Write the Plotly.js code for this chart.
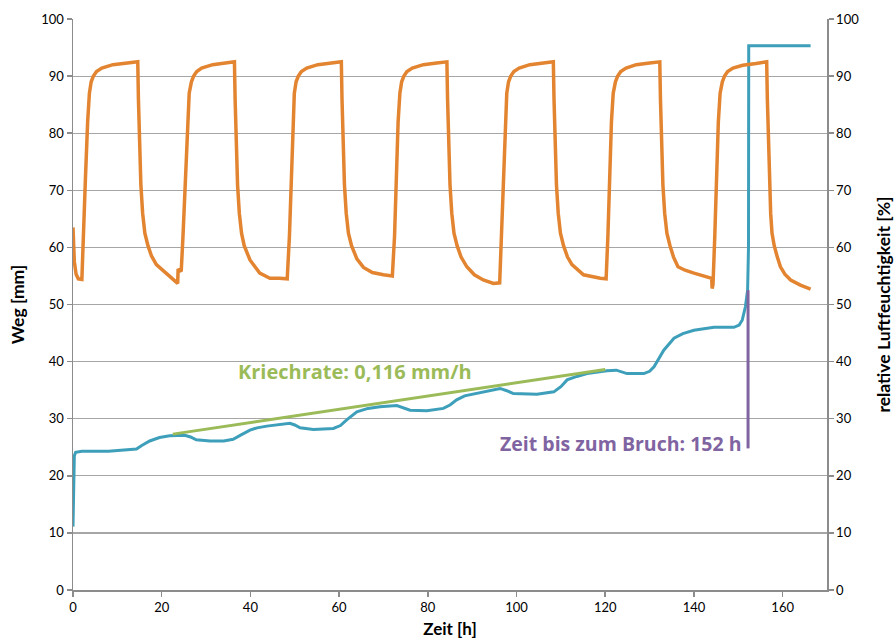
<!DOCTYPE html>
<html>
<head>
<meta charset="utf-8">
<script src="https://cdn.plot.ly/plotly-3.0.1.min.js"></script>
<style>html,body{margin:0;padding:0;background:#fff;}#chart{width:896px;height:644px;}</style>
</head>
<body>
<div id="chart"></div>
<script>
// Weg [mm] (left axis)
const wegX = [0, 0.3, 0.6, 2, 8, 14.3, 15.5, 17.3, 19.5, 21.8, 25.2, 26.5, 27.8, 30.9, 34, 36.1, 38, 39.9, 41.5, 43.7, 48.9, 50, 51.2, 54.2, 58.7, 60.3, 61.7, 64, 66.5, 69.2, 73, 74.5, 76, 79.8, 83.5, 85, 86.5, 88.3, 90.3, 96.3, 97.8, 99.3, 104.6, 108.4, 110, 111.4, 113.6, 115.9, 120.4, 122.5, 124.9, 128.7, 130, 131, 133.2, 135.5, 137.5, 140, 144.5, 149, 150.2, 150.9, 151.6, 152.1, 152.3, 152.35, 166.3];
const wegY = [11.1, 23.5, 24.1, 24.3, 24.3, 24.7, 25.3, 26.1, 26.7, 27.0, 27.1, 26.8, 26.3, 26.1, 26.1, 26.4, 27.2, 28.0, 28.4, 28.7, 29.2, 28.9, 28.4, 28.1, 28.3, 28.8, 29.8, 31.2, 31.8, 32.1, 32.3, 31.9, 31.5, 31.4, 31.8, 32.4, 33.3, 34.0, 34.3, 35.3, 34.9, 34.4, 34.3, 34.7, 35.6, 36.8, 37.4, 37.9, 38.4, 38.5, 37.9, 37.9, 38.3, 39.1, 42.0, 44.1, 44.9, 45.5, 46.0, 46.0, 46.4, 47.3, 49.6, 52.5, 60, 95.3, 95.3];

// relative Luftfeuchtigkeit [%] (right axis)
const rhX = [0, 0.3, 0.7, 1.2, 2.0, 2.3, 2.8, 3.3, 3.7, 4.1, 4.6, 5.3, 6.5, 9.0, 12.0, 14.6,
  14.75, 15.0, 15.3, 15.7, 16.2, 16.9, 17.7, 18.8, 20.5, 22.0, 23.0, 23.6, 23.7, 24.4,
  24.8, 25.3, 25.8, 26.2, 26.7, 27.2, 27.9, 29, 31.5, 34, 36.4,
  36.55, 36.8, 37.1, 37.5, 38.0, 38.6, 39.9, 42.1, 44.4, 46.5, 48.3,
  48.8, 49.2, 49.6, 49.9, 50.3, 50.8, 51.5, 52.7, 55.2, 58, 60.5,
  60.65, 60.9, 61.2, 61.6, 62.1, 62.8, 64, 65.5, 67.5, 70, 72.0,
  72.5, 72.9, 73.3, 73.7, 74.1, 74.6, 75.3, 76.5, 79, 82, 84.3,
  84.45, 84.7, 85.0, 85.4, 85.9, 86.6, 87.5, 88.8, 90.5, 92.5, 94.8, 96.2,
  96.6, 97.0, 97.4, 97.8, 98.2, 98.7, 99.4, 100.6, 103, 106, 108.3,
  108.45, 108.7, 109.0, 109.4, 109.9, 110.6, 111.5, 112.5, 115.1, 118.9, 120.2,
  120.6, 121.0, 121.4, 121.8, 122.3, 122.8, 123.5, 124.7, 127, 130, 132.3,
  132.45, 132.7, 133.0, 133.4, 133.9, 134.6, 135.4, 136.4, 138, 140, 143, 144.0, 144.1, 144.3,
  144.7, 145.1, 145.5, 145.9, 146.4, 146.9, 147.6, 148.8, 151, 154, 156.4,
  156.55, 156.8, 157.0, 157.3, 157.6, 158.1, 158.8, 159.5, 160.5, 161.8, 164, 166.3];
const rhY = [63.5, 57.5, 55.3, 54.5, 54.4, 62, 72, 82, 87, 89, 90, 90.8, 91.4, 92.0, 92.3, 92.5,
  86, 78, 71, 66, 62.5, 60.3, 58.5, 57, 55.8, 54.8, 54.1, 53.7, 56.2, 55.8,
  62, 72, 82, 87, 89, 90, 90.8, 91.4, 92.0, 92.3, 92.5,
  86, 78, 71, 66, 62.5, 60.3, 57.8, 55.5, 54.6, 54.6, 54.5,
  62, 72, 82, 87, 89, 90, 90.8, 91.4, 92.0, 92.3, 92.5,
  86, 78, 71, 66, 62.5, 60.3, 58, 56.5, 55.6, 55.2, 55.0,
  62, 72, 82, 87, 89, 90, 90.8, 91.4, 92.0, 92.3, 92.5,
  86, 78, 71, 66, 62.5, 60.3, 58.3, 56.6, 55.2, 54.3, 53.7, 53.8,
  62, 72, 82, 87, 89, 90, 90.8, 91.4, 92.0, 92.3, 92.5,
  86, 78, 71, 66, 62.5, 60.3, 58.3, 57, 55.2, 54.6, 54.5,
  62, 72, 82, 87, 89, 90, 90.8, 91.4, 92.0, 92.3, 92.5,
  86, 78, 71, 66, 62.5, 60.3, 58.3, 56.6, 56, 55.5, 54.9, 54.6, 52.8, 53.5,
  62, 72, 82, 87, 89, 90, 90.8, 91.4, 91.9, 92.2, 92.5,
  86, 78, 71, 66, 62.5, 60.3, 58.3, 56.6, 55.3, 54.3, 53.4, 52.7];

// Kriechrate-Gerade
const creepX = [22.5, 120];
const creepY = [27.3, 38.6];
// Bruchzeitpunkt
const breakX = [152.2, 152.2];
const breakY = [24.8, 52.5];

const labelCreep = 'Kriechrate: 0,116 mm/h';
const labelBreak = 'Zeit bis zum Bruch: 152 h';
const xTicks = [0, 20, 40, 60, 80, 100, 120, 140, 160];

const FONT = 'Lato, "Open Sans", sans-serif';
const AFONT = '"Open Sans", Lato, sans-serif';
const GRID = '#A6A6A6';
const LINE = '#8C8C8C';

const traces = [
  {x: wegX, y: wegY, type: 'scatter', mode: 'lines', yaxis: 'y',
   line: {color: '#3E9FBB', width: 3}, hoverinfo: 'skip'},
  {x: creepX, y: creepY, type: 'scatter', mode: 'lines', yaxis: 'y',
   line: {color: '#9BBB59', width: 3}, hoverinfo: 'skip'},
  {x: breakX, y: breakY, type: 'scatter', mode: 'lines', yaxis: 'y',
   line: {color: '#8064A2', width: 3}, hoverinfo: 'skip'},
  {x: rhX, y: rhY, type: 'scatter', mode: 'lines', yaxis: 'y2',
   line: {color: '#E38431', width: 3.5}, hoverinfo: 'skip'}
];

const layout = {
  width: 896, height: 644,
  margin: {l: 73, r: 69, t: 19, b: 54},
  paper_bgcolor: '#fff', plot_bgcolor: '#fff',
  showlegend: false,
  font: {family: FONT, size: 13, color: '#000'},
  xaxis: {
    range: [0, 170], tickvals: xTicks, ticktext: xTicks.map(String),
    showgrid: false, zeroline: false, showline: true, linecolor: LINE, linewidth: 1.5,
    ticks: 'outside', ticklen: 5, tickcolor: LINE, tickwidth: 1.5,
    tickfont: {family: FONT, size: 13, color: '#000'},
    title: {text: 'Zeit [h]', font: {family: FONT, size: 17, color: '#000', weight: 'bold'}, standoff: 9}
  },
  yaxis: {
    range: [0, 100], dtick: 10, showgrid: true, gridcolor: GRID, gridwidth: 1.2,
    zeroline: false, showline: true, linecolor: LINE, linewidth: 1.5,
    ticks: 'outside', ticklen: 5, tickcolor: LINE, tickwidth: 1.5,
    tickfont: {family: FONT, size: 13, color: '#000'},
    title: {text: 'Weg [mm]', font: {family: FONT, size: 17.5, color: '#000', weight: 'bold'}, standoff: 12}
  },
  yaxis2: {
    range: [0, 100], dtick: 10, overlaying: 'y', side: 'right',
    showgrid: false, zeroline: false, showline: true, linecolor: LINE, linewidth: 1.5,
    ticks: 'outside', ticklen: 5, tickcolor: LINE, tickwidth: 1.5,
    tickfont: {family: FONT, size: 13, color: '#000'},
    title: {text: 'relative Luftfeuchtigkeit [%]', font: {family: FONT, size: 17.5, color: '#000', weight: 'bold'}, standoff: 19}
  },
  annotations: [
    {x: 63.6, y: 38.2, xref: 'x', yref: 'y', text: labelCreep, showarrow: false,
     font: {family: AFONT, size: 20, color: '#9BBB59', weight: 'bold'}},
    {x: 123.4, y: 25.6, xref: 'x', yref: 'y', text: labelBreak, showarrow: false,
     font: {family: AFONT, size: 19.5, color: '#8064A2', weight: 'bold'}}
  ]
};

Plotly.newPlot('chart', traces, layout, {displayModeBar: false, staticPlot: true});
</script>
</body>
</html>
